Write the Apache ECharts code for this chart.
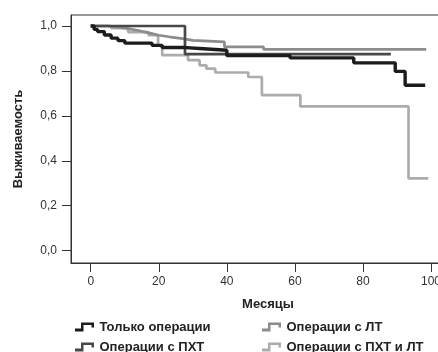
<!DOCTYPE html>
<html>
<head>
<meta charset="UTF-8">
<style>
html, body { margin: 0; padding: 0; background: #fff; }
#main { width: 438px; height: 352px; }
</style>
</head>
<body>
<div id="main"></div>
<script src="https://cdn.jsdelivr.net/npm/echarts@6/dist/echarts.min.js"></script>
<script type="text/javascript">
// ступенчатые кривые выживаемости: [месяц, доля]
var onlySurgery = [[0,1],[1,0.985],[2,0.975],[4,0.96],[6,0.946],[8,0.935],[10,0.924],[18,0.914],[21,0.904],[28,0.9],[32,0.892],[40,0.868],[58.6,0.858],[77.3,0.836],[89.5,0.798],[92.4,0.736],[98.3,0.736]];
var withPCT = [[0,1],[27.7,0.875],[88.2,0.875]];
var withRT = [[0,1],[5,0.995],[8,0.988],[11,0.98],[14,0.973],[16,0.966],[18,0.959],[20,0.952],[23,0.944],[27,0.936],[30,0.929],[39.3,0.907],[50.8,0.896],[98.6,0.896]];
var withPCTRT = [[0,1],[6,0.99],[11,0.973],[17,0.959],[19.8,0.914],[21,0.87],[28.6,0.848],[32,0.825],[34,0.81],[36.6,0.793],[46.3,0.773],[50.3,0.692],[61.6,0.642],[93.4,0.322],[99.2,0.322]];

var xTicks = [0, 20, 40, 60, 80, 100];
var yTicks = [0, 0.2, 0.4, 0.6, 0.8, 1.0];

var names = ['Только операции', 'Операции с ПХТ', 'Операции с ЛТ', 'Операции с ПХТ и ЛТ'];
var colors = ['#1c1c1c', '#484848', '#8c8c8c', '#acacac'];

var font = 'Liberation Sans, Arial, sans-serif';
var stepIcon = 'path://M0,6 H6 V0 H19 V5 H16.5 V2.5 H8.5 V9 H0 Z';

function mkSeries(i, data, w) {
	return {
		name: names[i],
		type: 'line',
		step: 'end',
		data: data,
		showSymbol: false,
		color: colors[i],
		lineStyle: { color: colors[i], width: w }
	};
}

var legendBase = {
	orient: 'vertical',
	icon: stepIcon,
	itemWidth: 20,
	itemHeight: 9,
	itemGap: 6,
	height: 40,
	padding: 0,
	textStyle: { fontFamily: font, fontSize: 13, lineHeight: 14, fontWeight: 'bold', color: '#222' }
};

var myChart = echarts.init(document.getElementById('main'));
var option = {
	animation: false,
	backgroundColor: '#fff',
	grid: {
		left: 71, top: 15, width: 394, height: 248,
		outerBoundsMode: 'none', containLabel: false,
		show: true, borderColor: '#333', borderWidth: 1
	},
	legend: [
		Object.assign({}, legendBase, { left: 75, top: 320, data: [names[0], names[1]] }),
		Object.assign({}, legendBase, { left: 262, top: 320, data: [names[2], names[3]] })
	],
	xAxis: {
		type: 'value',
		min: -5.8,
		max: 110,
		name: 'Месяцы',
		nameLocation: 'middle',
		nameGap: 35,
		nameTextStyle: { fontFamily: font, fontSize: 13, fontWeight: 'bold', color: '#222' },
		axisLine: { onZero: false, lineStyle: { color: '#333' } },
		axisTick: { show: true, length: 9, customValues: xTicks, lineStyle: { color: '#333' } },
		axisLabel: { customValues: xTicks, margin: 13, fontFamily: font, fontSize: 12, color: '#333' },
		splitLine: { show: false }
	},
	yAxis: {
		type: 'value',
		min: -0.055,
		max: 1.049,
		name: 'Выживаемость',
		nameLocation: 'middle',
		nameGap: 46,
		nameTextStyle: { fontFamily: font, fontSize: 13, fontWeight: 'bold', color: '#222' },
		axisLine: { show: true, onZero: false, lineStyle: { color: '#333' } },
		axisTick: { show: true, length: 9, customValues: yTicks, lineStyle: { color: '#333' } },
		axisLabel: {
			customValues: yTicks, margin: 14, fontFamily: font, fontSize: 12, color: '#333',
			formatter: function (v) { return v.toFixed(1).replace('.', ','); }
		},
		splitLine: { show: false }
	},
	series: [
		mkSeries(3, withPCTRT, 2.7),
		mkSeries(2, withRT, 2.7),
		mkSeries(1, withPCT, 2.7),
		mkSeries(0, onlySurgery, 3.4)
	]
};
myChart.setOption(option);
</script>
</body>
</html>
